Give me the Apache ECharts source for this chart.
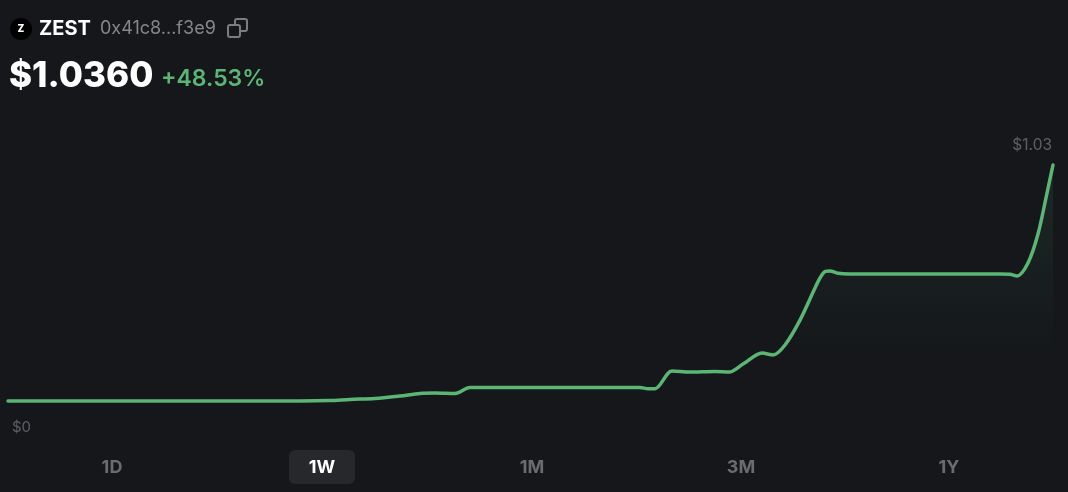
<!DOCTYPE html>
<html>
<head>
<meta charset="utf-8">
<style>
    html, body { margin: 0; padding: 0; background: #15171b; }
    #chart { width: 1068px; height: 492px; }
</style>
</head>
<body>
<div id="chart"></div>
<script src="https://cdn.jsdelivr.net/npm/echarts@6/dist/echarts.min.js"></script>
<script>
    // time position along the range (arbitrary units) and price
    const times = [0, 92, 192, 292, 322, 342, 367, 392, 412, 427, 447, 462, 472, 512, 592, 632, 640, 647, 664, 682, 707, 721, 735, 754, 765, 777, 792, 807, 812, 817, 822, 830, 842, 992, 1002, 1009, 1020, 1030, 1039, 1045];
    const prices = [0, 0, 0, 0, 0.002, 0.007, 0.011, 0.022, 0.033, 0.035, 0.033, 0.059, 0.059, 0.059, 0.059, 0.059, 0.054, 0.054, 0.132, 0.127, 0.130, 0.127, 0.162, 0.211, 0.202, 0.246, 0.355, 0.496, 0.540, 0.568, 0.571, 0.561, 0.558, 0.558, 0.556, 0.549, 0.606, 0.733, 0.913, 1.036];
    const ranges = ['1D', '1W', '1M', '3M', '1Y'];
    const activeRange = '1W';
    const rangeCenters = [112, 322, 532, 741, 949];

    const fontFamily = 'Inter, "Noto Sans", sans-serif';
    const green = '#5bb676';
    const grey = '#5e6065';

    function label(x, y, text, size, weight, fill, align) {
        return {
            type: 'text', x: x, y: y, silent: true,
            style: {
                text: text, fontSize: size, fontWeight: weight, fill: fill,
                fontFamily: fontFamily, align: align || 'left', verticalAlign: 'middle'
            }
        };
    }

    let chart = echarts.init(document.getElementById('chart'), null, {renderer: 'canvas'});

    let graphics = [
        // token logo
        {type: 'circle', silent: true, shape: {cx: 21, cy: 29, r: 11}, style: {fill: '#000'}},
        label(21, 29, 'Z', 10, 800, '#fff', 'center'),
        label(39, 29, 'ZEST', 20, 700, '#fff'),
        label(100, 29, '0x41c8...f3e9', 18, 400, '#85878b'),
        // copy icon
        {type: 'rect', silent: true, shape: {x: 235, y: 19, width: 12, height: 12, r: 2}, style: {fill: 'none', stroke: '#7b7d81', lineWidth: 2}},
        {type: 'rect', silent: true, shape: {x: 228, y: 25, width: 12, height: 12, r: 2}, style: {fill: '#15171b', stroke: '#7b7d81', lineWidth: 2}},
        label(9, 76, '$1.0360', 35, 800, '#fff'),
        label(161, 79, '+48.53%', 23, 600, green),
        label(1052, 145, '$1.03', 15.5, 400, grey, 'right'),
        label(12, 427, '$0', 15, 400, grey),
        // active range pill
        {type: 'rect', silent: true, shape: {x: 289, y: 450, width: 66, height: 34, r: 6}, style: {fill: '#26282c'}}
    ];
    ranges.forEach((r, i) => {
        graphics.push(label(rangeCenters[i], 468, r, 18, 700, r === activeRange ? '#fff' : '#6a6c70', 'center'));
    });

    let option = {
        backgroundColor: '#15171b',
        animation: false,
        grid: {left: 8, right: 14, top: 165, bottom: 91},
        xAxis: {type: 'value', min: 0, max: 1046, show: false},
        yAxis: {type: 'value', min: 0, max: 1.036, show: false},
        graphic: graphics,
        series: [{
            type: 'line',
            data: times.map((t, i) => [t, prices[i]]),
            smooth: 0.3,
            showSymbol: false,
            clip: false,
            lineStyle: {color: green, width: 3.5, cap: 'round', join: 'round'},
            areaStyle: {
                color: new echarts.graphic.LinearGradient(0, 0, 0, 1, [
                    {offset: 0, color: 'rgba(91,182,118,0.16)'},
                    {offset: 0.8, color: 'rgba(91,182,118,0)'}
                ])
            }
        }]
    };
    chart.setOption(option);
</script>
</body>
</html>
